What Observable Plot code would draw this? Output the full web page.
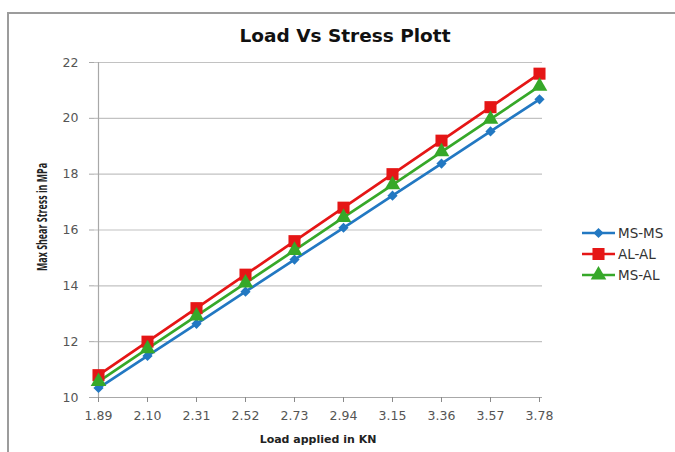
<!DOCTYPE html>
<html>
<head>
<meta charset="utf-8">
<script src="https://cdn.jsdelivr.net/npm/d3@7"></script>
<script src="https://cdn.jsdelivr.net/npm/@observablehq/plot@0.6"></script>
<style>
  html, body { margin: 0; padding: 0; background: #fff; overflow: hidden; }
  #wrap { position: relative; width: 675px; height: 452px; overflow: hidden; background: #fff; }
  #frame { position: absolute; left: 7px; top: 12px; width: 700px; height: 460px;
           border-left: 2px solid #9c9c9c; border-top: 2px solid #9c9c9c; box-sizing: border-box; }
  #wrap svg.plot { position: absolute; left: 0; top: 0; }
  #legend { position: absolute; left: 0; top: 0; }
</style>
</head>
<body>
<div id="wrap"><div id="frame"></div></div>
<script>
const title = "Load Vs Stress Plott";
const xTitle = "Load applied in KN";
const yTitle = "Max Shear Stress in MPa";
const categories = ["1.89","2.10","2.31","2.52","2.73","2.94","3.15","3.36","3.57","3.78"];
const seriesNames = ["MS-MS","AL-AL","MS-AL"];
const msms = [10.34,11.49,12.64,13.79,14.94,16.08,17.23,18.38,19.53,20.68];
const alal = [10.8,12.0,13.2,14.4,15.6,16.8,18.0,19.2,20.4,21.6];
const msal = [10.57,11.75,12.92,14.10,15.27,16.45,17.62,18.80,19.97,21.15];
const yTicks = [10,12,14,16,18,20,22];
const colors = ["#2278c2","#e51616","#36a829"];
const symbols = ["diamond2","square","triangle"];
const radii = [4.6,6.8,5.8];

const values = [msms, alal, msal];
const data = seriesNames.flatMap((s, i) => categories.map((c, j) => ({series: s, cat: c, value: values[i][j]})));

const W = 675, H = 452;
const plot = Plot.plot({
  width: W, height: H,
  marginLeft: 94, marginRight: 133, marginTop: 62, marginBottom: 55,
  x: {type: "point", domain: categories, padding: 0},
  y: {domain: [10, 22]},
  color: {domain: seriesNames, range: colors},
  symbol: {domain: seriesNames, range: symbols},
  style: {fontFamily: "'DejaVu Sans', sans-serif", fontSize: "12.5px", color: "#555", background: "transparent", overflow: "visible"},
  marks: [
    Plot.gridY(yTicks, {stroke: "#c2c2c2", strokeOpacity: 1, strokeWidth: 1.2}),
    Plot.ruleY([10], {stroke: "#a8a8a8", strokeWidth: 1.2}),
    Plot.ruleX([categories[0]], {stroke: "#a8a8a8", strokeWidth: 1.2}),
    Plot.axisY(yTicks, {tickSize: 5, tickPadding: 11, stroke: "#a8a8a8", label: null, fill: "#555"}),
    Plot.axisX({tickSize: 5, tickPadding: 9, stroke: "#8a8a8a", label: null, fill: "#555"}),
    Plot.line(data, {x: "cat", y: "value", stroke: "series", strokeWidth: 2.7}),
    ...seriesNames.map((s, i) => Plot.dot(data.filter(d => d.series === s),
      {x: "cat", y: "value", symbol: "series", fill: "series", stroke: null, r: radii[i]}))
  ]
});
plot.classList.add("plot");
document.getElementById("wrap").appendChild(plot);

const svg = d3.select(plot);
svg.append("text").text(title)
  .attr("x", 345).attr("y", 42).attr("text-anchor", "middle")
  .attr("font-family", "DejaVu Sans").attr("font-weight", "bold").attr("font-size", 18.5).attr("fill", "#111");
svg.append("text").text(xTitle)
  .attr("x", 318).attr("y", 443).attr("text-anchor", "middle")
  .attr("font-family", "DejaVu Sans").attr("font-weight", "bold").attr("font-size", 11).attr("fill", "#222");
svg.append("text").text(yTitle)
  .attr("transform", "translate(47,217) rotate(-90)").attr("text-anchor", "middle")
  .attr("textLength", 108).attr("lengthAdjust", "spacingAndGlyphs")
  .attr("font-family", "Open Sans").attr("font-weight", "bold").attr("font-size", 14.5).attr("fill", "#222");

// legend
const leg = d3.select("#wrap").append("svg").attr("id", "legend").attr("width", W).attr("height", H);
const rows = [233, 254, 275];
seriesNames.forEach((s, i) => {
  const g = leg.append("g").attr("transform", `translate(0,${rows[i]})`);
  g.append("line").attr("x1", 582).attr("x2", 615).attr("y1", 0).attr("y2", 0)
    .attr("stroke", colors[i]).attr("stroke-width", 2.7);
  const sym = {diamond2: d3.symbolDiamond2, square: d3.symbolSquare, triangle: d3.symbolTriangle}[symbols[i]];
  g.append("path").attr("d", d3.symbol(sym, Math.PI * radii[i] * radii[i])())
    .attr("transform", "translate(598.5,0)").attr("fill", colors[i]);
  g.append("text").text(s).attr("x", 618).attr("y", 0).attr("dy", "0.36em")
    .attr("font-family", "DejaVu Sans").attr("font-size", 13.5).attr("fill", "#333");
});
</script>
</body>
</html>
